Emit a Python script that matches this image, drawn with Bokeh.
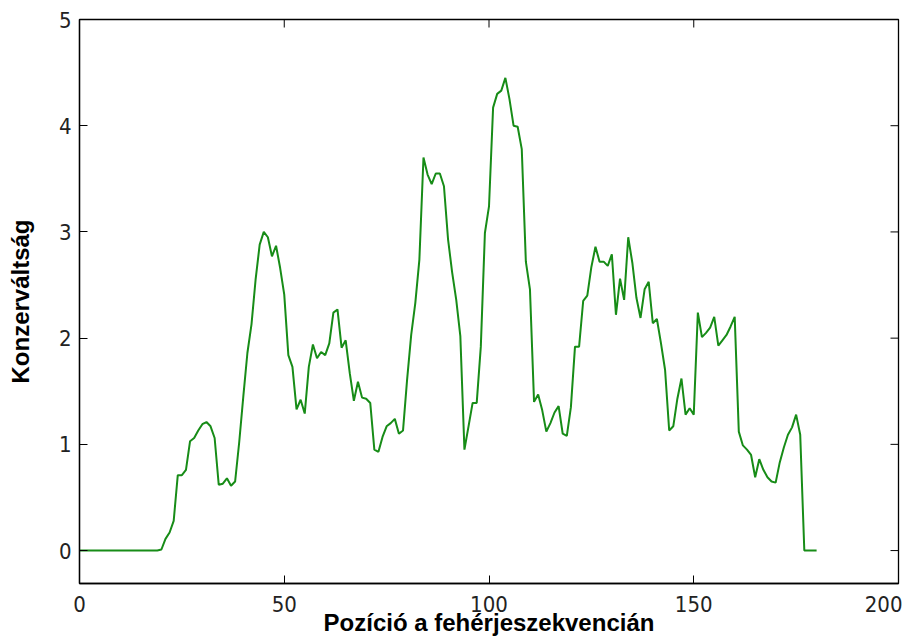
import math
from bokeh.plotting import figure
from bokeh.models import FixedTicker, Range1d
from bokeh.embed import file_html
from bokeh.resources import INLINE

# Residue positions along the protein sequence
positions = list(range(0, 181))

# Conservation score per position
conservation = [
    0, 0, 0, 0, 0, 0, 0, 0, 0, 0,
    0, 0, 0, 0, 0, 0, 0, 0, 0, 0,
    0.01, 0.11, 0.17, 0.28, 0.71, 0.71, 0.76, 1.03, 1.06, 1.13,
    1.19, 1.21, 1.17, 1.06, 0.62, 0.63, 0.68, 0.61, 0.65, 1.02,
    1.45, 1.86, 2.13, 2.55, 2.88, 3.00, 2.95, 2.77, 2.87, 2.66,
    2.41, 1.84, 1.73, 1.33, 1.42, 1.29, 1.73, 1.94, 1.81, 1.87,
    1.84, 1.95, 2.24, 2.27, 1.91, 1.98, 1.67, 1.41, 1.59, 1.44,
    1.43, 1.39, 0.95, 0.93, 1.07, 1.17, 1.20, 1.24, 1.10, 1.13,
    1.61, 2.03, 2.33, 2.74, 3.70, 3.54, 3.45, 3.55, 3.55, 3.43,
    2.93, 2.62, 2.36, 2.02, 0.95, 1.17, 1.39, 1.39, 1.92, 2.99,
    3.24, 4.17, 4.30, 4.33, 4.45, 4.25, 4.00, 3.99, 3.78, 2.72,
    2.46, 1.40, 1.47, 1.32, 1.12, 1.20, 1.30, 1.36, 1.10, 1.08,
    1.35, 1.92, 1.92, 2.35, 2.40, 2.67, 2.86, 2.72, 2.72, 2.68,
    2.79, 2.22, 2.56, 2.36, 2.95, 2.71, 2.38, 2.19, 2.46, 2.53,
    2.14, 2.18, 1.95, 1.70, 1.13, 1.17, 1.43, 1.62, 1.28, 1.34,
    1.28, 2.24, 2.01, 2.05, 2.10, 2.20, 1.93, 1.98, 2.03, 2.11,
    2.20, 1.12, 0.99, 0.95, 0.90, 0.69, 0.86, 0.76, 0.69, 0.65,
    0.64, 0.83, 0.97, 1.09, 1.16, 1.28, 1.09, 0, 0, 0,
    0,
]

x_ticks = [0, 50, 100, 150, 200]
y_ticks = [0, 1, 2, 3, 4, 5]
x_min, x_max = 0, 200
y_min, y_max = -0.31, 5

x_label = "Pozíció a fehérjeszekvencián"
y_label = "Konzerváltság"

TICK_FONT = "DejaVu Sans Condensed"
LABEL_FONT = "Liberation Sans"

p = figure(
    width=902, height=641,
    output_backend="svg", toolbar_location=None,
    x_range=Range1d(x_min, x_max), y_range=Range1d(y_min, y_max),
    min_border_left=79, min_border_right=4,
    min_border_top=19, min_border_bottom=58,
)
p.xgrid.visible = False
p.ygrid.visible = False
p.outline_line_color = "black"
p.outline_line_width = 1.3
p.background_fill_color = "white"
p.border_fill_color = "white"

p.line(positions, conservation, line_color="#178c17", line_width=2)

# inward ticks on the top and right edges (matplotlib style box)
p.scatter(x=x_ticks, y=[y_max] * len(x_ticks), marker="dash", size=16,
          angle=math.pi / 2, line_color="black", line_width=1)
p.scatter(x=[x_max] * len(y_ticks), y=y_ticks, marker="dash", size=16,
          line_color="black", line_width=1)

for ax, ticks in ((p.xaxis[0], x_ticks), (p.yaxis[0], y_ticks)):
    ax.ticker = FixedTicker(ticks=ticks)
    ax.axis_line_color = "black"
    ax.axis_line_width = 1.3
    ax.major_tick_in = 8
    ax.major_tick_out = 0
    ax.major_tick_line_color = "black"
    ax.minor_tick_line_color = None
    ax.major_label_text_font = TICK_FONT
    ax.major_label_text_font_size = "22px"
    ax.major_label_text_color = "#222222"
    ax.axis_label_text_font = LABEL_FONT
    ax.axis_label_text_font_style = "bold"
    ax.axis_label_text_font_size = "24px"
    ax.axis_label_text_color = "black"

xa = p.xaxis[0]
xa.major_label_standoff = 12
xa.axis_label = x_label
xa.axis_label_standoff = -6

ya = p.yaxis[0]
ya.major_label_standoff = 8
ya.axis_label = y_label
ya.axis_label_standoff = 22

open("out.html", "w").write(file_html(p, INLINE))
